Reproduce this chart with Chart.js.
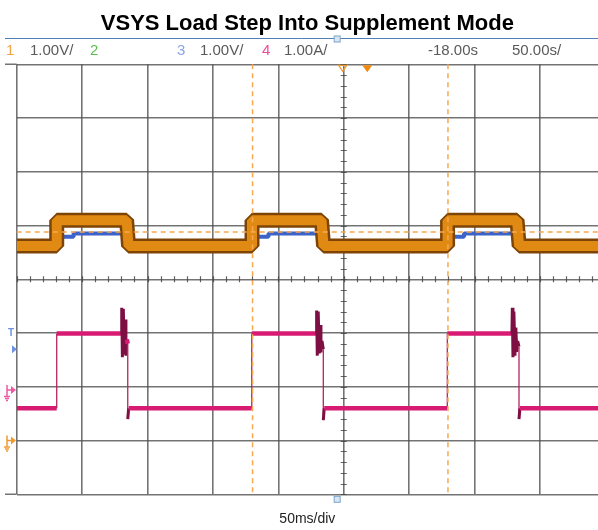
<!DOCTYPE html>
<html>
<head>
<meta charset="utf-8">
<script src="https://cdn.jsdelivr.net/npm/chart.js@4"></script>
<style>
  html, body { margin: 0; padding: 0; background: #fff; }
  #wrap { width: 598px; height: 530px; }
</style>
</head>
<body>
<div id="wrap"><canvas id="scope"></canvas></div>
<script>
// time axis in ms (50 ms/div), levels in screen divisions (-4 .. 4)
const vsysTimes  = [0, 30.6, 30.6, 84.0, 85.5, 179.9, 179.9, 233.0, 234.6, 329.4, 329.4, 382.5, 384.1, 444.4];
const vsysLevels = [0.62, 0.62, 1.10, 1.10, 0.62, 0.62, 1.10, 1.10, 0.62, 0.62, 1.10, 1.10, 0.62, 0.62];

const ch3Times  = [0, 30.6, 30.6, 43.5, 43.5, 84.3, 85.5, 179.9, 179.9, 192.5, 192.5, 233.3, 234.6, 329.4, 329.4, 342, 342, 382.8, 384.1, 444.4];
const ch3Levels = [0.62, 0.62, 0.79, 0.79, 0.85, 0.85, 0.62, 0.62, 0.79, 0.79, 0.85, 0.85, 0.62, 0.62, 0.79, 0.79, 0.85, 0.85, 0.62, 0.62];

const loadTimes = [0, 30.6, 30.6, 80.0, 80.3, 80.8, 81.5, 82.3, 83.0, 83.5, 84.2, 84.9, 84.9, 85.6,
                   179.7, 179.7, 229.0, 229.3, 229.8, 230.5, 231.3, 232.0, 232.6, 233.4, 234.4, 234.4, 235.1,
                   329.2, 329.2, 378.6, 378.9, 379.4, 380.1, 380.9, 381.6, 382.3, 383.0, 384.0, 384.0, 384.7, 444.4];
const loadLevels = [-2.40, -2.40, -1.01, -1.01, -0.53, -1.45, -0.55, -1.40, -0.75, -1.42, -1.12, -1.20, -2.60, -2.40,
                    -2.40, -1.01, -1.01, -0.58, -1.42, -0.60, -1.38, -0.85, -1.36, -1.15, -1.30, -2.62, -2.40,
                    -2.40, -1.01, -1.01, -0.53, -1.45, -0.60, -1.42, -0.90, -1.35, -1.15, -1.25, -2.60, -2.40, -2.40];

const cursorTimes = [180.3, 329.7];
const cursorLevel = 0.88;
const centreTime = 250;
const triggerTime = 268;

const headerItems = [
  { text: '1', x: 6, color: '#f2a444' },
  { text: '1.00V/', x: 30, color: '#5a5a5a' },
  { text: '2', x: 90, color: '#5cbf4f' },
  { text: '3', x: 177, color: '#8ea4ea' },
  { text: '1.00V/', x: 200, color: '#5a5a5a' },
  { text: '4', x: 262, color: '#ea4c9a' },
  { text: '1.00A/', x: 284, color: '#5a5a5a' },
  { text: '-18.00s', x: 428, color: '#5a5a5a' },
  { text: '50.00s/', x: 512, color: '#5a5a5a' }
];

const sans = '"Liberation Sans", Arial, sans-serif';

function pts(xs, ys) {
  return xs.map((x, i) => ({ x: x, y: ys[i] }));
}

function groundMark(ctx, px, py, color) {
  ctx.strokeStyle = color;
  ctx.fillStyle = color;
  ctx.lineWidth = 1.5;
  ctx.beginPath();
  ctx.moveTo(7, py - 5); ctx.lineTo(7, py + 6);
  ctx.moveTo(7, py); ctx.lineTo(px - 4, py);
  ctx.stroke();
  ctx.beginPath();
  ctx.moveTo(px, py); ctx.lineTo(px - 5, py - 4); ctx.lineTo(px - 5, py + 4); ctx.closePath();
  ctx.fill();
  ctx.beginPath();
  ctx.moveTo(4, py + 6.5); ctx.lineTo(10, py + 6.5);
  ctx.moveTo(5, py + 8.5); ctx.lineTo(9, py + 8.5);
  ctx.moveTo(6, py + 10.5); ctx.lineTo(8, py + 10.5);
  ctx.stroke();
}

const decor = {
  id: 'decor',
  beforeDatasetsDraw(chart) {
    const { ctx, chartArea: a, scales: { x, y } } = chart;
    ctx.save();
    ctx.strokeStyle = 'rgba(70,70,70,0.85)';
    ctx.lineWidth = 1.2;
    const cx = x.getPixelForValue(centreTime);
    const cy = y.getPixelForValue(0);
    ctx.beginPath();
    for (let v = -4; v <= 4.001; v += 0.2) {
      const py = Math.round(y.getPixelForValue(v)) + 0.5;
      ctx.moveTo(cx - 3, py); ctx.lineTo(cx + 3, py);
    }
    for (let t = 0; t <= x.max; t += 10) {
      const px = Math.round(x.getPixelForValue(t)) + 0.5;
      ctx.moveTo(px, cy - 3); ctx.lineTo(px, cy + 3);
    }
    ctx.stroke();
    ctx.lineWidth = 1.6;
    ctx.strokeStyle = 'rgba(80,80,80,0.8)';
    ctx.beginPath();
    ctx.moveTo(5, a.top); ctx.lineTo(a.left, a.top);
    ctx.moveTo(5, a.bottom); ctx.lineTo(a.left, a.bottom);
    ctx.stroke();
    ctx.restore();
  },
  afterDatasetsDraw(chart) {
    const { ctx, chartArea: a, scales: { x, y } } = chart;
    ctx.save();
    ctx.strokeStyle = '#f7a850';
    ctx.lineWidth = 1.5;
    ctx.setLineDash([5, 4]);
    ctx.beginPath();
    cursorTimes.forEach(t => {
      const px = x.getPixelForValue(t);
      ctx.moveTo(px, a.top); ctx.lineTo(px, a.bottom);
    });
    const py = y.getPixelForValue(cursorLevel);
    ctx.moveTo(a.left, py); ctx.lineTo(a.right, py);
    ctx.stroke();
    ctx.restore();
  },
  afterDraw(chart) {
    const { ctx, chartArea: a, scales: { x, y } } = chart;
    ctx.save();
    // header rule
    ctx.strokeStyle = '#4f7fb5';
    ctx.lineWidth = 1;
    ctx.beginPath(); ctx.moveTo(5, 38.5); ctx.lineTo(598, 38.5); ctx.stroke();
    // header labels
    ctx.font = '15px ' + sans;
    ctx.textBaseline = 'middle';
    ctx.textAlign = 'left';
    headerItems.forEach(h => { ctx.fillStyle = h.color; ctx.fillText(h.text, h.x, 51); });
    // trigger position markers
    const bx = x.getPixelForValue(245);
    ctx.fillStyle = '#d6e6f4'; ctx.strokeStyle = '#7ea3c8';
    ctx.fillRect(bx - 3, 36, 6, 6); ctx.strokeRect(bx - 3, 36, 6, 6);
    ctx.fillRect(bx - 3, a.bottom + 2, 6, 6); ctx.strokeRect(bx - 3, a.bottom + 2, 6, 6);
    const ox = x.getPixelForValue(centreTime) - 1;
    ctx.strokeStyle = '#f09a30'; ctx.lineWidth = 1.3;
    ctx.beginPath(); ctx.moveTo(ox - 4, a.top + 1); ctx.lineTo(ox + 4, a.top + 1); ctx.lineTo(ox, a.top + 7); ctx.closePath(); ctx.stroke();
    const tx = x.getPixelForValue(triggerTime);
    ctx.fillStyle = '#f08a10';
    ctx.beginPath(); ctx.moveTo(tx - 5, a.top + 1); ctx.lineTo(tx + 5, a.top + 1); ctx.lineTo(tx, a.top + 8); ctx.closePath(); ctx.fill();
    // left channel markers
    ctx.fillStyle = '#6f92e6';
    ctx.font = 'bold 10px ' + sans;
    ctx.fillText('T', 8, y.getPixelForValue(-1.01));
    const ty = y.getPixelForValue(-1.30);
    ctx.beginPath(); ctx.moveTo(12, ty - 4); ctx.lineTo(17, ty); ctx.lineTo(12, ty + 4); ctx.closePath(); ctx.fill();
    groundMark(ctx, 16, y.getPixelForValue(-2.06), '#ee5aa6');
    groundMark(ctx, 16, y.getPixelForValue(-3), '#f09a30');
    ctx.restore();
  }
};

function isSpike(c) {
  const dx = c.p1.parsed.x - c.p0.parsed.x;
  const dy = Math.abs(c.p1.parsed.y - c.p0.parsed.y);
  return dx > 0 && dx < 2 && dy > 0.1;
}

new Chart(document.getElementById('scope'), {
  type: 'line',
  data: {
    datasets: [
      {
        label: 'Ch4 load current',
        data: pts(loadTimes, loadLevels),
        borderColor: '#d81b72',
        borderWidth: 4.5,
        segment: {
          borderWidth: c => (c.p1.parsed.x === c.p0.parsed.x ? 1.3 : (isSpike(c) ? 3 : 4.5)),
          borderColor: c => (isSpike(c) ? '#7d0f42' : (c.p1.parsed.x === c.p0.parsed.x ? '#b3245f' : '#d81b72'))
        }
      },
      {
        label: 'Ch1 VSYS',
        data: pts(vsysTimes, vsysLevels),
        borderColor: '#e08a14',
        borderWidth: 10
      },
      {
        label: 'Ch1 VSYS edge',
        data: pts(vsysTimes, vsysLevels),
        borderColor: '#7e4406',
        borderWidth: 15
      },
      {
        label: 'Ch3',
        data: pts(ch3Times, ch3Levels),
        borderColor: '#3b63c9',
        borderWidth: 4
      }
    ]
  },
  options: {
    responsive: true,
    maintainAspectRatio: false,
    animation: false,
    devicePixelRatio: 1,
    elements: { point: { radius: 0 }, line: { tension: 0, borderJoinStyle: 'bevel' } },
    layout: { padding: { left: 16.7, right: 0, top: 0, bottom: 0 } },
    plugins: {
      legend: { display: false },
      tooltip: { enabled: false },
      title: {
        display: true,
        text: 'VSYS Load Step Into Supplement Mode',
        color: '#000',
        font: { family: sans, size: 22, weight: 'bold' },
        padding: { top: 10.8, bottom: 27.1 }
      }
    },
    scales: {
      x: {
        type: 'linear',
        min: 0,
        max: 444.4,
        ticks: { display: false, stepSize: 50, includeBounds: false },
        grid: { color: 'rgba(80,80,80,0.8)', lineWidth: 1.6, drawTicks: false },
        border: { display: false },
        title: {
          display: true,
          text: '50ms/div',
          color: '#222',
          font: { family: sans, size: 14 },
          padding: { top: 16.3, bottom: 2.6 }
        }
      },
      y: {
        min: -4,
        max: 4,
        ticks: { display: false, stepSize: 1 },
        grid: { color: 'rgba(80,80,80,0.8)', lineWidth: 1.6, drawTicks: false },
        border: { display: false }
      }
    }
  },
  plugins: [decor]
});
</script>
</body>
</html>
